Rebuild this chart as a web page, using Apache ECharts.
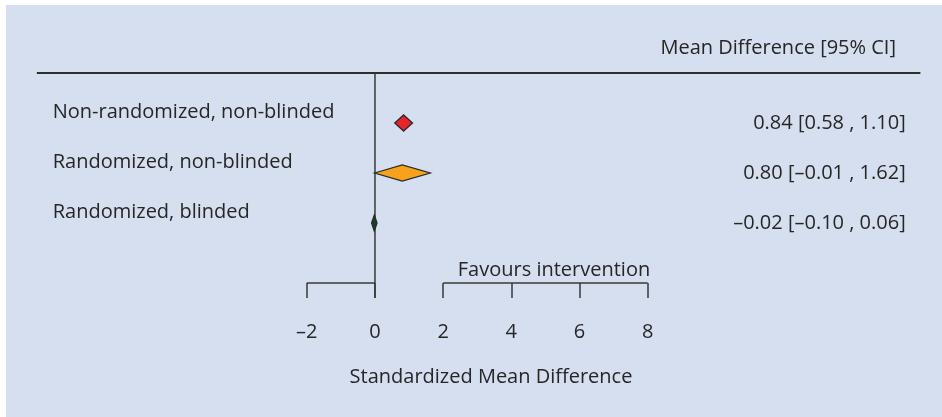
<!DOCTYPE html>
<html>
<head>
<meta charset="utf-8">
<script src="https://cdn.jsdelivr.net/npm/echarts@6/dist/echarts.min.js"></script>
<style>
  html, body { margin: 0; padding: 0; background: #ffffff; }
  #chart { width: 942px; height: 417px; }
</style>
</head>
<body>
<div id="chart"></div>
<script>
// Subgroups of the meta-analysis (top to bottom)
const groups = ['Non-randomized, non-blinded', 'Randomized, non-blinded', 'Randomized, blinded'];
// Pooled standardized mean differences and 95% confidence limits
const estimates = [0.84, 0.80, -0.02];
const lowerCI = [0.58, -0.01, -0.10];
const upperCI = [1.10, 1.62, 0.06];
const diamondColors = ['#e8232b', '#f6a21d', '#0e4428'];
// Axis tick values
const tickValues = [-2, 0, 2, 4, 6, 8];
// Bracketed axis segments on either side of the gap
const axisSegments = [[-2, 0], [2, 8]];

const FONT = '"Open Sans", "Noto Sans", sans-serif';
const TEXT = '#262626';
const LINE = '#383838';

function fmt(v, d) {
  const s = Math.abs(v).toFixed(d);
  return (v < 0 ? '\u2013' : '') + s;
}

const rows = groups.map((g, i) => [estimates[i], lowerCI[i], upperCI[i], i]);

const chart = echarts.init(document.getElementById('chart'), null, { renderer: 'canvas' });

chart.setOption({
  animation: false,
  backgroundColor: '#ffffff',
  grid: { left: 34.1, right: 21.6, top: 73, bottom: 134 },
  xAxis: {
    type: 'value',
    min: -10,
    max: 16,
    splitLine: { show: false },
    axisLine: { show: false, onZero: false },
    axisTick: {
      show: true,
      customValues: tickValues,
      length: 15,
      lineStyle: { color: LINE, width: 1.5 }
    },
    axisLabel: {
      customValues: tickValues,
      margin: 39,
      fontFamily: FONT,
      fontSize: 20,
      color: TEXT,
      formatter: v => fmt(v, 0)
    }
  },
  yAxis: {
    type: 'value',
    inverse: true,
    min: -1,
    max: 3.2,
    show: false
  },
  graphic: [
    {
      type: 'rect',
      z: -10,
      silent: true,
      shape: { x: 6, y: 5, width: 936, height: 412 },
      style: { fill: '#d5dff0' }
    },
    {
      type: 'text',
      x: 896, y: 48.5,
      style: {
        text: 'Mean Difference [95% CI]',
        align: 'right', verticalAlign: 'middle',
        font: '20px ' + FONT, fill: TEXT
      }
    },
    {
      type: 'text',
      x: 554, y: 270,
      style: {
        text: 'Favours intervention',
        align: 'center', verticalAlign: 'middle',
        font: '20px ' + FONT, fill: TEXT
      }
    },
    {
      type: 'text',
      x: 491, y: 377,
      style: {
        text: 'Standardized Mean Difference',
        align: 'center', verticalAlign: 'middle',
        font: '20px ' + FONT, fill: TEXT
      }
    }
  ],
  series: [
    {
      // header rule, line of no effect and bracketed axis line
      type: 'custom',
      clip: false,
      silent: true,
      data: [0],
      renderItem: (params, api) => {
        const children = [];
        const r0 = api.coord([-9.92, -1]);
        const r1 = api.coord([16, -1]);
        children.push({
          type: 'line',
          shape: { x1: r0[0], y1: r0[1], x2: r1[0], y2: r1[1] },
          style: { stroke: '#2e2e2e', lineWidth: 2 }
        });
        const z0 = api.coord([0, -1]);
        const z1 = api.coord([0, 3.5]);
        children.push({
          type: 'line',
          shape: { x1: z0[0], y1: z0[1], x2: z1[0], y2: z1[1] },
          style: { stroke: LINE, lineWidth: 1.5 }
        });
        axisSegments.forEach(seg => {
          const a = api.coord([seg[0], 3.2]);
          const b = api.coord([seg[1], 3.2]);
          children.push({
            type: 'line',
            shape: { x1: a[0], y1: a[1], x2: b[0], y2: b[1] },
            style: { stroke: LINE, lineWidth: 1.5 }
          });
        });
        return { type: 'group', children };
      }
    },
    {
      // subgroup diamonds with their labels
      type: 'custom',
      clip: false,
      data: rows,
      encode: { x: 0, y: 3 },
      renderItem: (params, api) => {
        const est = api.value(0), lo = api.value(1), hi = api.value(2), row = api.value(3);
        const c = api.coord([est, row]);
        const l = api.coord([lo, row]);
        const h = api.coord([hi, row]);
        const half = 8;
        const i = params.dataIndex;
        return {
          type: 'group',
          children: [
            {
              type: 'polygon',
              shape: { points: [[l[0], c[1]], [c[0], c[1] - half], [h[0], c[1]], [c[0], c[1] + half]] },
              style: { fill: diamondColors[i], stroke: '#2a2a2a', lineWidth: 1.3 }
            },
            {
              type: 'text',
              x: 52.7, y: c[1] - 11,
              style: {
                text: groups[i], align: 'left', verticalAlign: 'middle',
                font: '20px ' + FONT, fill: TEXT
              }
            },
            {
              type: 'text',
              x: 905.7, y: c[1],
              style: {
                text: fmt(est, 2) + ' [' + fmt(lo, 2) + ' , ' + fmt(hi, 2) + ']',
                align: 'right', verticalAlign: 'middle',
                font: '20px ' + FONT, fill: TEXT
              }
            }
          ]
        };
      }
    }
  ]
});
</script>
</body>
</html>
